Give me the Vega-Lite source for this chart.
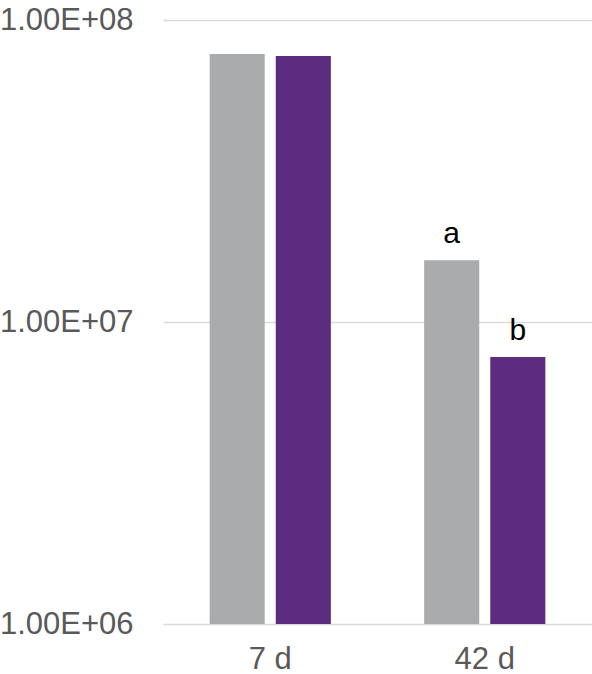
{
  "$schema": "https://vega.github.io/schema/vega-lite/v6.json",
  "width": 429,
  "height": 604,
  "autosize": {"type": "none"},
  "padding": {"left": 163, "top": 20, "right": 0, "bottom": 50},
  "background": "white",
  "config": {"view": {"stroke": null}, "font": "Liberation Sans"},
  "data": {
    "values": [
      {"day": "7 d", "group": "Series 1", "value": 77200000, "label": ""},
      {"day": "7 d", "group": "Series 2", "value": 76000000, "label": ""},
      {"day": "42 d", "group": "Series 1", "value": 16000000, "label": "a"},
      {"day": "42 d", "group": "Series 2", "value": 7660000, "label": "b"}
    ]
  },
  "encoding": {
    "x": {
      "field": "day", "type": "nominal", "sort": ["7 d", "42 d"],
      "scale": {"paddingInner": 0.435, "paddingOuter": 0.2175},
      "axis": {"title": null, "labelAngle": 0, "domain": false, "ticks": false, "labelFontSize": 31, "labelColor": "#595959", "labelPadding": 20, "labelFont": "Liberation Sans"}
    },
    "xOffset": {"field": "group", "type": "nominal", "scale": {"paddingInner": 0.167, "paddingOuter": 0}},
    "y": {
      "field": "value", "type": "quantitative", "stack": null,
      "scale": {"type": "log", "domain": [1000000, 100000000], "nice": false},
      "axis": {"title": null, "values": [1000000, 10000000, 100000000], "domain": false, "ticks": false, "labelFontSize": 31, "labelColor": "#595959", "labelPadding": 30, "gridColor": "#d9d9d9", "gridWidth": 1.5, "labelExpr": "replace(upper(format(datum.value, '.2e')), '+', '+0')", "labelFont": "Liberation Sans"}
    }
  },
  "layer": [
    {
      "mark": {"type": "bar"},
      "encoding": {
        "y2": {"datum": 1000000},
        "color": {"field": "group", "type": "nominal", "scale": {"range": ["#aaabad", "#5b2c7f"]}, "legend": null}
      }
    },
    {
      "mark": {"type": "text", "baseline": "alphabetic", "dy": -17, "fontSize": 30, "color": "#000000", "font": "Liberation Sans"},
      "encoding": {"text": {"field": "label"}}
    }
  ]
}
